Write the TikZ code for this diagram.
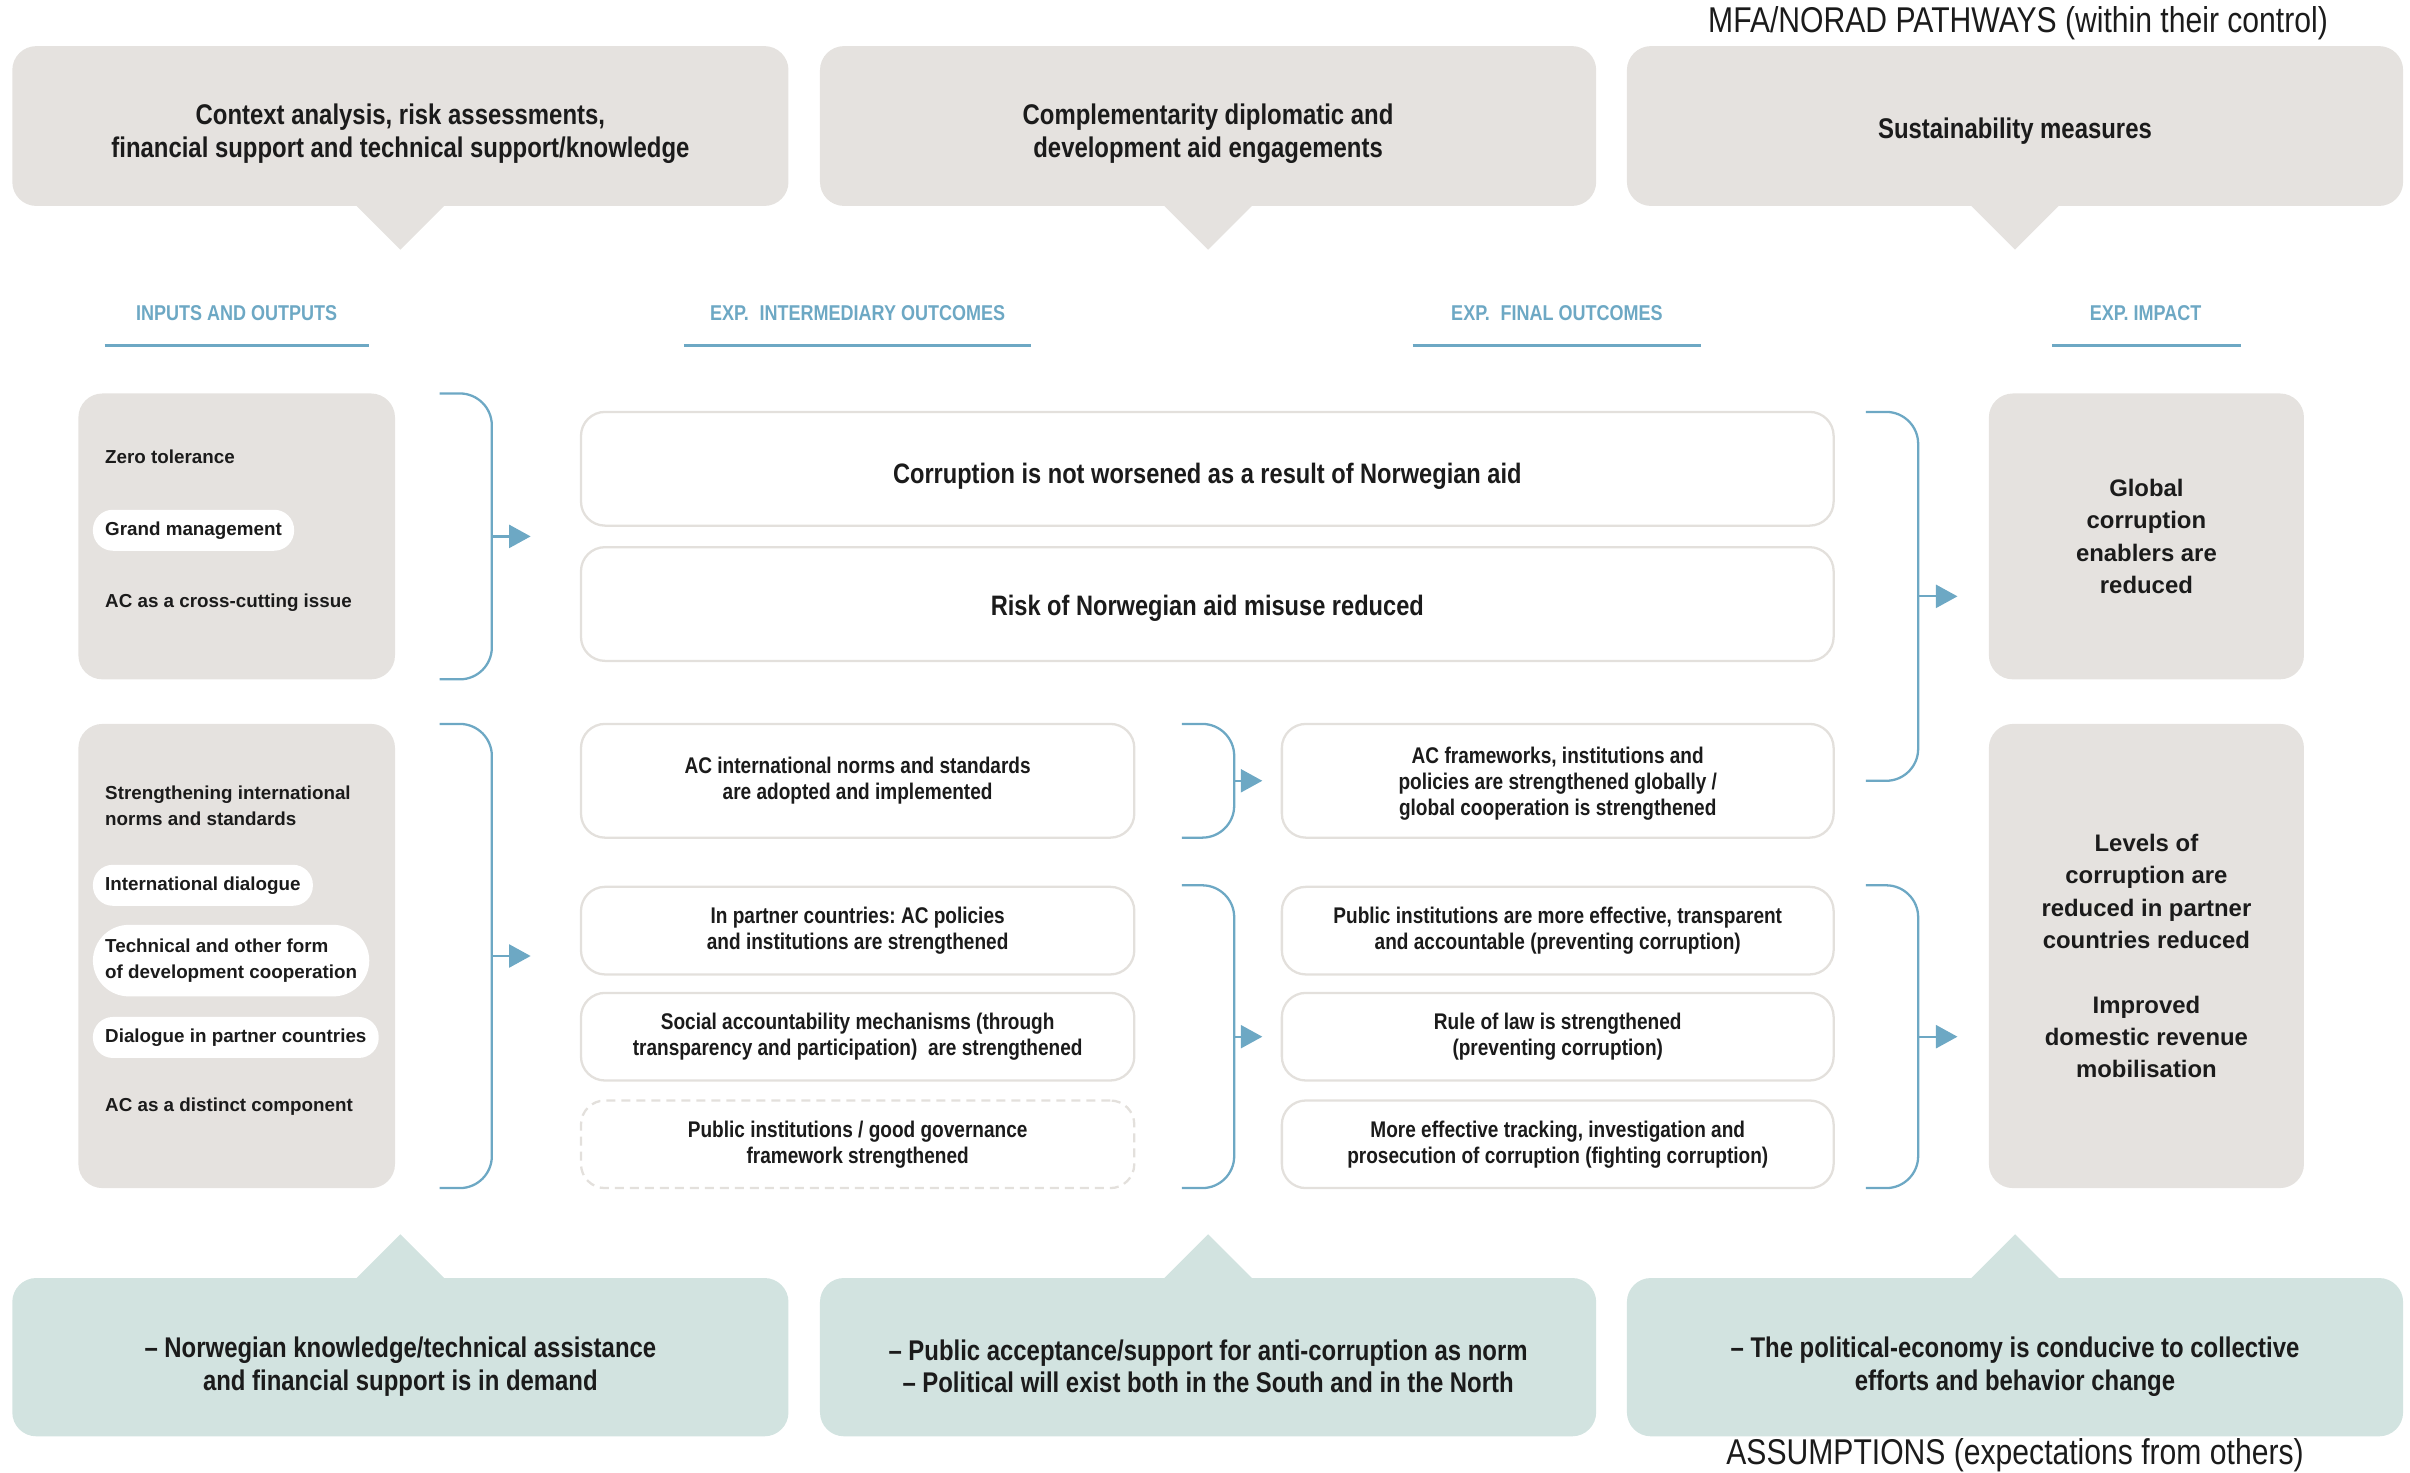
\documentclass[tikz,border=0pt]{standalone}
\usepackage{fontspec}
\setmainfont{Liberation Sans}
\newfontfamily\narrowfont{Liberation Sans}[FakeStretch=0.84]
\usetikzlibrary{arrows.meta,calc}
\frenchspacing
\definecolor{Ink}{HTML}{1B1B1B}
\definecolor{StoneFill}{HTML}{E5E2DF}
\definecolor{StoneLine}{HTML}{E3E0DC}
\definecolor{SageFill}{HTML}{D2E3E0}
\definecolor{FlowBlue}{HTML}{6DA8C4}
\newlength{\pxu}
\setlength{\pxu}{0.1537mm}
% taller first line, so the text block sits a little lower
\newcommand{\lift}[1][10.3pt]{\rule{0pt}{#1}}
\tikzset{
  boxsize/.style 2 args={minimum width=#1\pxu, minimum height=#2\pxu},
  panel/.style={fill=StoneFill, rounded corners=2.4mm, inner sep=0pt},
  hint/.style={fill=#1, rounded corners=2.4mm, inner sep=0pt, align=center, text=Ink,
    font=\narrowfont\bfseries\fontsize{8.1}{9.3}\selectfont},
  outcome/.style={draw=StoneLine, line width=0.65pt, fill=white, rounded corners=2.4mm,
    inner sep=0pt, align=center, text=Ink,
    font=\narrowfont\bfseries\fontsize{6.45}{7.4}\selectfont},
  bigoutcome/.style={outcome, font=\narrowfont\bfseries\fontsize{8}{9.3}\selectfont},
  header/.style={text=FlowBlue, inner sep=0pt,
    font=\narrowfont\bfseries\fontsize{6.1}{7}\selectfont},
  item/.style={anchor=west, inner sep=0pt, align=left, text=Ink,
    font=\bfseries\fontsize{5.35}{7.4}\selectfont},
  pill/.style={item, fill=white, rounded corners=2mm, inner xsep=1.23mm, minimum height=4.1mm},
  impact/.style={panel, align=center, text=Ink, font=\bfseries\fontsize{6.8}{9.2}\selectfont},
  brk/.style={draw=FlowBlue, line width=0.65pt, rounded corners=3.2mm},
  flow/.style={draw=FlowBlue, line width=0.65pt, -{Triangle[length=2.15mm,width=2.3mm]}},
  rule/.style={draw=FlowBlue, line width=0.9pt},
  title/.style={text=Ink, inner sep=0pt, font=\narrowfont\fontsize{10.2}{12}\selectfont}
}
% open bracket: x, top, bottom, name of its middle point
\newcommand{\bracketgroup}[4]{%
  \draw[brk] (#1,#2) -- (#1+34,#2) -- (#1+34,#3) -- (#1,#3);
  \coordinate (#4) at (#1+34,{(#2+#3)/2});%
}

\begin{document}
\begin{tikzpicture}[x=\pxu,y=-\pxu]
  \useasboundingbox (0,0) rectangle (1568,958);

  % pathways (top)
  \node[title, anchor=east] (pathways) at (1515,15) {MFA/NORAD PATHWAYS (within their control)};
  \node[hint=StoneFill, boxsize={505}{104}] (context) at (260.5,82)
    {\lift Context analysis, risk assessments,\\financial support and technical support/knowledge};
  \node[hint=StoneFill, boxsize={505}{104}] (diplo) at (786,82)
    {\lift Complementarity diplomatic and\\development aid engagements};
  \node[hint=StoneFill, boxsize={505}{104}] (sustain) at (1311,82) {\lift[8.5pt]Sustainability measures};
  \foreach \c in {context,diplo,sustain}
    \fill[StoneFill] ($(\c.south)+(-29,-1)$) -- ($(\c.south)+(0,28)$) -- ($(\c.south)+(29,-1)$) -- cycle;

  % column headers
  \node[header] (hdinput) at (154,204) {INPUTS AND OUTPUTS};
  \node[header] (hdinter) at (558,204) {EXP.\enspace INTERMEDIARY OUTCOMES};
  \node[header] (hdfinal) at (1013,204) {EXP.\enspace FINAL OUTCOMES};
  \node[header] (hdimpact) at (1396,204) {EXP. IMPACT};
  \draw[rule] (68,225) -- (240,225);
  \draw[rule] (445,225) -- (671,225);
  \draw[rule] (919,225) -- (1107,225);
  \draw[rule] (1335,225) -- (1458,225);

  % inputs and outputs
  \node[panel, boxsize={206}{186}] (inputA) at (154,349) {};
  \node[item] (zero) at (68,297) {Zero tolerance};
  \node[pill] (grand) at (60,345) {Grand management};
  \node[item] (cross) at (68,392) {AC as a cross-cutting issue};

  \node[panel, boxsize={206}{302}] (inputB) at (154,622) {};
  \node[item] (strength) at (68,524) {Strengthening international\\norms and standards};
  \node[pill] (intdia) at (60,576) {International dialogue};
  \node[pill, inner ysep=1.4mm, rounded corners=3.6mm] (techco) at (60,625)
    {Technical and other form\\of development cooperation};
  \node[pill] (partdia) at (60,675) {Dialogue in partner countries};
  \node[item] (distinct) at (68,720) {AC as a distinct component};

  % intermediary outcomes
  \node[bigoutcome, boxsize={815}{74}] (notworse) at (785.5,305)
    {\lift Corruption is not worsened as a result of Norwegian aid};
  \node[bigoutcome, boxsize={815}{74}] (misuse) at (785.5,393)
    {\lift[8.5pt]Risk of Norwegian aid misuse reduced};
  \node[outcome, boxsize={360}{74}] (norms) at (558,508)
    {AC international norms and standards\\are adopted and implemented};
  \node[outcome, boxsize={360}{57}] (policies) at (558,605.5)
    {In partner countries: AC policies\\and institutions are strengthened};
  \node[outcome, boxsize={360}{57}] (social) at (558,674.5)
    {Social accountability mechanisms (through\\transparency and participation)\ \ are strengthened};
  \node[outcome, dash pattern=on 0.9mm off 0.6mm, boxsize={360}{57}] (govern) at (558,744.5)
    {Public institutions / good governance\\framework strengthened};

  % final outcomes
  \node[outcome, boxsize={359}{74}] (global) at (1013.5,508)
    {\lift[6.2pt]AC frameworks, institutions and\\policies are strengthened globally /\\global cooperation is strengthened};
  \node[outcome, boxsize={359}{57}] (effective) at (1013.5,605.5)
    {Public institutions are more effective, transparent\\and accountable (preventing corruption)};
  \node[outcome, boxsize={359}{57}] (rulelaw) at (1013.5,674.5)
    {Rule of law is strengthened\\(preventing corruption)};
  \node[outcome, boxsize={359}{57}] (tracking) at (1013.5,744.5)
    {More effective tracking, investigation and\\prosecution of corruption (fighting corruption)};

  % impact
  \node[impact, boxsize={205}{186}] (enablers) at (1396.5,349)
    {Global\\corruption\\enablers are\\reduced};
  \node[impact, boxsize={205}{302}] (levels) at (1396.5,622)
    {Levels of\\corruption are\\reduced in partner\\countries reduced\\[9.2pt]Improved\\domestic revenue\\mobilisation};

  % brackets and arrows
  \bracketgroup{286}{256}{442}{brA}
  \bracketgroup{286}{471}{773}{brB}
  \bracketgroup{769}{471}{545}{brC}
  \bracketgroup{769}{576}{773}{brD}
  \bracketgroup{1214}{268}{508}{brE}
  \bracketgroup{1214}{576}{773}{brF}
  \draw[flow, shorten >=4.92mm] (brA) -- (brA -| notworse.west);
  \draw[flow, shorten >=4.92mm] (brB) -- (brB -| policies.west);
  \draw[flow, shorten >=1.84mm] (brC) -- (brC -| global.west);
  \draw[flow, shorten >=1.84mm] (brD) -- (brD -| rulelaw.west);
  \draw[flow, shorten >=3.07mm] (brE) -- (brE -| enablers.west);
  \draw[flow, shorten >=3.07mm] (brF) -- (brF -| levels.west);

  % assumptions (bottom)
  \node[hint=SageFill, boxsize={505}{103}] (demand) at (260.5,883)
    {\lift[11.1pt]\textendash{} Norwegian knowledge/technical assistance\\and financial support is in demand};
  \node[hint=SageFill, boxsize={505}{103}] (accept) at (786,883)
    {\lift[11.1pt]\textendash{} Public acceptance/support for anti-corruption as norm\\\textendash{} Political will exist both in the South and in the North};
  \node[hint=SageFill, boxsize={505}{103}] (economy) at (1311,883)
    {\lift[11.1pt]\textendash{} The political-economy is conducive to collective\\efforts and behavior change};
  \foreach \c in {demand,accept,economy}
    \fill[SageFill] ($(\c.north)+(-29,1)$) -- ($(\c.north)+(0,-28)$) -- ($(\c.north)+(29,1)$) -- cycle;
  \node[title] (assume) at (1311,947) {ASSUMPTIONS (expectations from others)};
\end{tikzpicture}
\end{document}
